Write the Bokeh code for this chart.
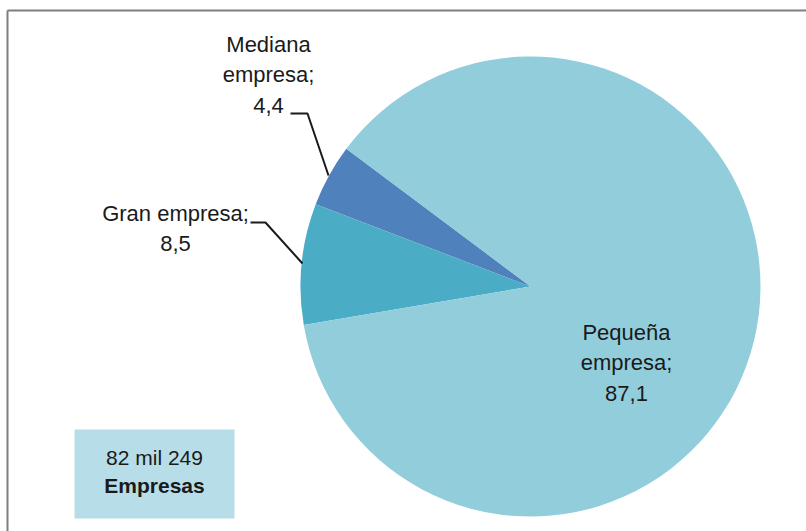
import math

from bokeh.core.properties import value
from bokeh.embed import file_html
from bokeh.models import ColumnDataSource, Range1d
from bokeh.plotting import figure
from bokeh.resources import INLINE

# Share of companies by size (%)
categories = ["Mediana empresa", "Gran empresa", "Pequeña empresa"]
shares = [4.4, 8.5, 87.1]
share_text = ["4,4", "8,5", "87,1"]
slice_colors = ["#4F81BD", "#4BACC6", "#92CDDC"]
total_lines = ["82 mil 249", "Empresas"]

W, H = 806, 531
FONT = "Liberation Sans"
FS = "22px"

p = figure(width=W, height=H, x_range=Range1d(0, W), y_range=Range1d(0, H),
           output_backend="svg", toolbar_location=None, min_border=0,
           x_axis_location=None, y_axis_location=None)
p.grid.visible = False
p.outline_line_color = None
p.background_fill_color = "white"
p.border_fill_color = "white"


def px_y(y):
    """Screen-style y (from top) to data y."""
    return H - y


# Pie geometry
cx, cy, r = 530, px_y(286), 230
start_deg = 143.2
total = sum(shares)
starts, ends = [], []
acc = math.radians(start_deg)
for s in shares:
    starts.append(acc)
    acc += 2 * math.pi * s / total
    ends.append(acc)

src = ColumnDataSource(dict(cat=categories, share=shares, start=starts, end=ends,
                            color=slice_colors))
p.wedge(x=cx, y=cy, radius=r, start_angle="start", end_angle="end",
        direction="anticlock", fill_color="color", line_color=None, source=src)

# Outer frame (top and left edges)
p.segment(x0=[7, 7], y0=[px_y(10), px_y(10)], x1=[W + 20, 7], y1=[px_y(10), -20],
          line_color="#7f7f7f", line_width=2)

# Leader lines for the small slices
p.line(x=[290, 307, 328], y=[px_y(113), px_y(113), px_y(175)],
       line_color="#1a1a1a", line_width=2)
p.line(x=[250, 265, 302], y=[px_y(222), px_y(222), px_y(263)],
       line_color="#1a1a1a", line_width=2)

# Data labels
label_text = [
    categories[0].replace(" ", "\n") + ";\n" + share_text[0],
    categories[1] + ";\n" + share_text[1],
    categories[2].replace(" ", "\n") + ";\n" + share_text[2],
]
label_x = [268, 175, 626]
label_y = [px_y(74), px_y(228), px_y(362)]
p.text(x=label_x, y=label_y, text=label_text, text_align="center",
       text_baseline="middle", text_font=value(FONT), text_font_size=FS,
       text_color="#1a1a1a", text_line_height=1.22)

# Total companies box
p.quad(left=74, right=234, top=px_y(429), bottom=px_y(518),
       fill_color="#B7DEE8", line_color=None)
p.text(x=[154], y=[px_y(457)], text=[total_lines[0]], text_align="center",
       text_baseline="middle", text_font=value(FONT), text_font_size="21px",
       text_color="#1a1a1a")
p.text(x=[154], y=[px_y(485)], text=[total_lines[1]], text_align="center",
       text_baseline="middle", text_font=value(FONT), text_font_size="21px",
       text_font_style="bold", text_color="#1a1a1a")

open("out.html", "w").write(file_html(p, INLINE))
